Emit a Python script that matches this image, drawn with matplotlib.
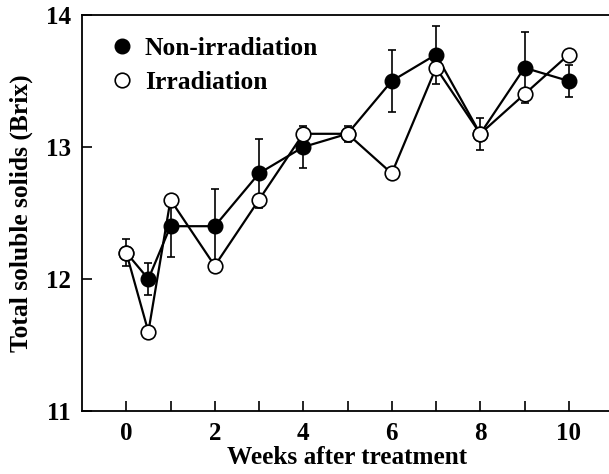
import matplotlib
matplotlib.use("Agg")
import matplotlib.pyplot as plt

weeks = [0, 0.5, 1, 2, 3, 4, 5, 6, 7, 8, 9, 10]
non_irr = [12.2, 12.0, 12.4, 12.4, 12.8, 13.0, 13.1, 13.5, 13.7, 13.1, 13.6, 13.5]
non_irr_err = [0.10, 0.12, 0.23, 0.28, 0.26, 0.16, 0.06, 0.235, 0.22, 0.12, 0.27, 0.12]
irr = [12.2, 11.6, 12.6, 12.1, 12.6, 13.1, 13.1, 12.8, 13.6, 13.1, 13.4, 13.7]
xticks = [0, 1, 2, 3, 4, 5, 6, 7, 8, 9, 10]
xticklabels = ["0", "", "2", "", "4", "", "6", "", "8", "", "10"]
yticks = [11, 12, 13, 14]

plt.rcParams['font.family'] = ['Liberation Serif', 'DejaVu Serif']
plt.rcParams['font.weight'] = 'bold'

fig = plt.figure(figsize=(6.09, 4.74), dpi=100)
ax = fig.add_axes([82/609, 1 - 411/474, 531/609, 396/474])

ax.errorbar(weeks, non_irr, yerr=non_irr_err, color='black', lw=1.6,
            marker='o', ms=10.5, mfc='black', mec='black', capsize=2.6,
            elinewidth=1.2, capthick=1.2, label='Non-irradiation', zorder=3)
ax.plot(weeks, irr, color='black', lw=1.6, marker='o', ms=10.5,
        mfc='white', mec='black', mew=1.2, label='Irradiation', zorder=4)

ax.set_xlim(-1, 11)
ax.set_ylim(11, 14)
ax.set_xticks(xticks)
ax.set_xticklabels(xticklabels)
ax.set_yticks(yticks)
ax.tick_params(direction='in', length=7, width=1.2, labelsize=18, pad=8)
for s in ['left', 'bottom', 'top']:
    ax.spines[s].set_linewidth(1.3)
ax.spines['right'].set_visible(False)

ax.set_xlabel('Weeks after treatment', fontsize=18.2, fontweight='bold', labelpad=1)
ax.set_ylabel('Total soluble solids (Brix)', fontsize=18.4, fontweight='bold', labelpad=9)

h1 = ax.plot([], [], 'o', color='black', ms=10.5)[0]
h2 = ax.plot([], [], 'o', mfc='white', mec='black', mew=1.2, ms=10.5)[0]
leg = ax.legend([h1, h2], ['Non-irradiation', 'Irradiation'], loc='upper left',
                frameon=False, fontsize=18.4, handlelength=0.8, handletextpad=0.48,
                labelspacing=0.42, borderaxespad=0.3, bbox_to_anchor=(0.023, 0.99))
for t in leg.get_texts():
    t.set_fontweight('bold')

fig.savefig('out.png', dpi=100)
